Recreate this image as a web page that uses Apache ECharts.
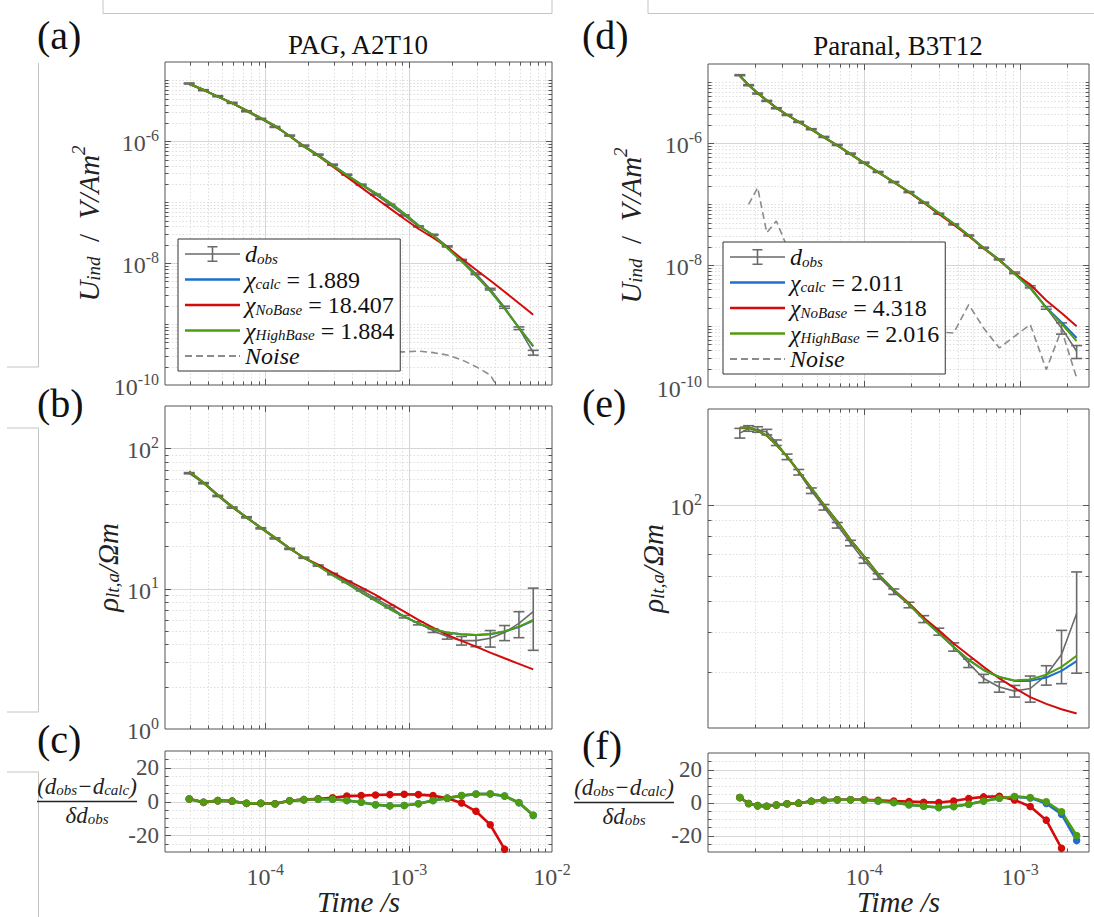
<!DOCTYPE html>
<html><head><meta charset="utf-8">
<script src="https://cdn.jsdelivr.net/npm/echarts@6/dist/echarts.min.js"></script>
<style>html,body{margin:0;padding:0;background:#fff}#c{width:1094px;height:917px}</style>
</head><body><div id="c"></div>
<script>
// ---------------- data ----------------
const timeL = [2.95e-5,3.71e-5,4.67e-5,5.88e-5,7.40e-5,9.32e-5,1.17e-4,1.48e-4,1.86e-4,2.34e-4,2.95e-4,3.71e-4,4.67e-4,5.88e-4,7.40e-4,9.32e-4,1.17e-3,1.48e-3,1.86e-3,2.34e-3,2.95e-3,3.71e-3,4.67e-3,5.88e-3,7.40e-3];
const timeR = [1.60e-5,1.82e-5,2.08e-5,2.38e-5,2.74e-5,3.21e-5,3.81e-5,4.59e-5,5.53e-5,6.73e-5,8.19e-5,1.00e-4,1.23e-4,1.55e-4,1.94e-4,2.41e-4,3.01e-4,3.75e-4,4.68e-4,5.83e-4,7.35e-4,9.20e-4,1.16e-3,1.47e-3,1.84e-3,2.30e-3];

// (a) PAG voltage
const uObsA   = [8.87e-6,6.89e-6,5.49e-6,4.27e-6,3.11e-6,2.33e-6,1.72e-6,1.24e-6,8.49e-7,6.04e-7,4.13e-7,2.83e-7,1.94e-7,1.33e-7,9.10e-8,6.08e-8,4.01e-8,2.92e-8,1.88e-8,1.13e-8,6.68e-9,3.74e-9,1.89e-9,8.55e-10,3.40e-10];
const uErrA   = [0.02,0.02,0.02,0.02,0.02,0.02,0.02,0.02,0.02,0.02,0.02,0.02,0.02,0.02,0.02,0.02,0.02,0.02,0.02,0.02,0.03,0.03,0.04,0.05,0.09];
const uCalcA  = [8.70e-6,7.00e-6,5.41e-6,4.24e-6,3.21e-6,2.40e-6,1.79e-6,1.22e-6,8.22e-7,5.81e-7,3.97e-7,2.78e-7,1.96e-7,1.41e-7,9.84e-8,6.54e-8,4.17e-8,2.87e-8,1.77e-8,1.08e-8,6.27e-9,3.51e-9,1.80e-9,8.72e-10,4.30e-10];
const uNoBaseA= [8.70e-6,7.00e-6,5.41e-6,4.24e-6,3.21e-6,2.40e-6,1.79e-6,1.22e-6,8.22e-7,5.81e-7,3.88e-7,2.60e-7,1.75e-7,1.17e-7,7.92e-8,5.36e-8,3.67e-8,2.61e-8,1.83e-8,1.19e-8,7.77e-9,5.19e-9,3.38e-9,2.20e-9,1.42e-9];
const uHighA  = [8.70e-6,7.00e-6,5.41e-6,4.24e-6,3.21e-6,2.40e-6,1.79e-6,1.22e-6,8.22e-7,5.81e-7,3.97e-7,2.78e-7,1.96e-7,1.41e-7,9.84e-8,6.54e-8,4.17e-8,2.87e-8,1.77e-8,1.08e-8,6.27e-9,3.51e-9,1.80e-9,8.69e-10,4.34e-10];
const noiseA  = [4.2e-10,4.1e-10,4.0e-10,4.0e-10,3.9e-10,3.9e-10,3.8e-10,3.8e-10,3.7e-10,3.7e-10,3.6e-10,3.6e-10,3.6e-10,3.5e-10,3.5e-10,3.5e-10,3.6e-10,3.4e-10,3.1e-10,2.6e-10,2.0e-10,1.46e-10,6e-11,3e-11,2e-11];

// (b) PAG apparent resistivity
const rhoObsB   = [66.4,56.4,45.7,37.8,32.2,26.9,22.8,19.2,16.6,14.6,12.7,11.2,9.78,8.53,7.44,6.31,5.66,5.02,4.55,4.26,4.26,4.43,4.86,5.66,6.86];
const rhoErrB   = [0.01,0.01,0.01,0.01,0.01,0.01,0.01,0.01,0.01,0.01,0.012,0.012,0.015,0.015,0.02,0.02,0.025,0.03,0.04,0.07,0.094,0.135,0.123,0.21,0.47];
const rhoCalcB  = [68.2,56.9,46.5,38.4,32.2,27.2,23.1,19.4,16.6,14.5,12.5,10.9,9.42,8.21,7.16,6.31,5.66,5.16,4.86,4.73,4.67,4.73,4.94,5.32,5.92];
const rhoNoBaseB= [68.2,56.9,46.5,38.4,32.2,27.2,23.1,19.4,16.6,14.8,13.0,11.5,10.2,9.02,7.86,6.86,5.98,5.28,4.68,4.24,3.86,3.50,3.19,2.91,2.66];
const rhoHighB  = [68.2,56.9,46.5,38.4,32.2,27.2,23.1,19.4,16.6,14.5,12.5,10.9,9.42,8.21,7.16,6.31,5.66,5.16,4.86,4.73,4.68,4.75,4.97,5.36,5.98];

// (c) PAG normalised residuals
const resCalcC  = [1.5,-0.5,0.5,0.2,-1.1,-1.1,-1.3,0.4,1.1,1.3,1.3,0.6,-0.4,-1.9,-2.6,-2.4,-1.3,0.6,2.0,3.5,4.4,4.5,3.2,-0.8,-8.3];
const resNoBaseC= [1.5,-0.5,0.5,0.2,-1.1,-1.1,-1.3,0.4,1.1,1.6,2.2,3.2,3.5,3.9,4.1,4.3,4.1,3.5,1.9,-0.9,-5.8,-13.8,-28.3,null,null];
const resHighC  = [1.5,-0.5,0.5,0.2,-1.1,-1.1,-1.3,0.4,1.1,1.3,1.3,0.6,-0.4,-1.9,-2.6,-2.4,-1.3,0.6,2.0,3.5,4.5,4.6,3.3,-0.6,-8.0];

// (d) Paranal voltage
const uObsD   = [1.31e-5,8.98e-6,6.55e-6,4.96e-6,3.76e-6,2.92e-6,2.24e-6,1.70e-6,1.27e-6,9.39e-7,6.77e-7,4.81e-7,3.38e-7,2.31e-7,1.58e-7,1.06e-7,6.98e-8,4.66e-8,3.07e-8,1.93e-8,1.24e-8,7.48e-9,4.41e-9,1.99e-9,9.33e-10,3.86e-10];
const uErrD   = [0.02,0.02,0.02,0.02,0.02,0.02,0.02,0.02,0.02,0.02,0.02,0.02,0.02,0.02,0.02,0.02,0.02,0.02,0.02,0.02,0.02,0.03,0.04,0.05,0.21,0.24];
const uCalcD  = [1.27e-5,9.03e-6,6.67e-6,5.07e-6,3.82e-6,2.94e-6,2.25e-6,1.69e-6,1.25e-6,9.20e-7,6.64e-7,4.72e-7,3.35e-7,2.31e-7,1.60e-7,1.08e-7,7.20e-8,4.80e-8,3.10e-8,1.91e-8,1.21e-8,7.20e-9,4.19e-9,2.02e-9,1.16e-9,6.36e-10];
const uNoBaseD= [1.27e-5,9.03e-6,6.67e-6,5.07e-6,3.82e-6,2.94e-6,2.25e-6,1.69e-6,1.25e-6,9.20e-7,6.64e-7,4.72e-7,3.35e-7,2.30e-7,1.57e-7,1.06e-7,6.95e-8,4.60e-8,3.00e-8,1.88e-8,1.20e-8,7.30e-9,4.81e-9,2.62e-9,1.64e-9,9.93e-10];
const uHighD  = [1.27e-5,9.03e-6,6.67e-6,5.07e-6,3.82e-6,2.94e-6,2.25e-6,1.69e-6,1.25e-6,9.20e-7,6.64e-7,4.72e-7,3.35e-7,2.31e-7,1.60e-7,1.08e-7,7.20e-8,4.80e-8,3.10e-8,1.91e-8,1.21e-8,7.20e-9,4.19e-9,1.99e-9,1.10e-9,5.64e-10];
const noiseD  = [null,9.9e-8,1.87e-7,3.4e-8,5.3e-8,2.0e-8,1.5e-8,8e-9,5e-9,3e-9,2e-9,1.5e-9,1.2e-9,1.0e-9,9e-10,8e-10,8e-10,7.7e-10,2.25e-9,9.3e-10,4.37e-10,6.8e-10,1.06e-9,1.93e-10,8.75e-10,1.41e-10];

// (e) Paranal apparent resistivity
const rhoObsE   = [168,173.8,172.5,169.3,156.8,141.6,126.7,110.9,98.4,86.4,76.0,67.0,59.7,53.5,48.6,43.9,40.1,35.9,31.9,28.6,26.9,26.1,26.6,29.3,34.0,45.7];
const rhoErrE   = [0.035,0.02,0.02,0.02,0.02,0.02,0.02,0.02,0.02,0.02,0.02,0.02,0.02,0.02,0.02,0.025,0.025,0.03,0.03,0.03,0.037,0.042,0.094,0.07,0.19,0.35];
const rhoCalcE  = [174.6,175,171,165,154.5,142,127.6,113,100.2,88.9,77.8,69.0,60.7,54.2,48.9,43.8,39.6,35.9,32.7,30.4,28.9,28.1,28.1,28.8,30.2,32.4];
const rhoNoBaseE= [174.6,175,171,165,154.5,142,127.6,113,100.2,88.9,77.8,69.0,60.7,54.2,49.2,44.3,40.5,36.8,33.8,31.1,28.6,26.7,25.0,23.8,22.9,22.2];
const rhoHighE  = [174.6,175,171,165,154.5,142,127.6,113,100.2,88.9,77.8,69.0,60.7,54.2,48.9,43.8,39.6,35.9,32.7,30.4,28.9,28.2,28.4,29.4,31.1,33.7];

// (f) Paranal normalised residuals
const resCalcF  = [3.0,-0.6,-1.9,-2.3,-1.5,-0.8,-0.4,0.8,1.3,1.7,1.7,1.7,0.9,0,-1.3,-2.3,-3.0,-2.4,-1.1,0.9,2.6,3.5,2.8,-0.6,-7.1,-23.1];
const resNoBaseF= [3.0,-0.6,-1.9,-2.3,-1.5,-0.8,-0.4,0.8,1.3,1.7,1.7,1.7,1.3,0.9,0.6,0.2,0,0.9,2.4,3.4,3.8,1.5,-2.4,-10.7,-27.8,null];
const resHighF  = [3.0,-0.6,-1.9,-2.3,-1.5,-0.8,-0.4,0.8,1.3,1.7,1.7,1.7,0.9,0,-1.3,-2.3,-3.0,-2.4,-1.1,0.9,2.6,3.6,3.0,0.4,-5.6,-20.0];

// legend values / tick labels
const chiA = ['1.889','18.407','1.884'];
const chiD = ['2.011','4.318','2.016'];
const xLabelExpL = [-4,-3,-2];
const xLabelExpR = [-4,-3];
const yLabelExpU = [-10,-8,-6];
const yLabelExpRhoB = [0,1,2];
const yLabelExpRhoE = [2];
const resTicks = [-20,0,20];
const resMinor = [-25,-15,-10,-5,5,10,15,25];

// ---------------- styling ----------------
const FONT = 'Liberation Serif, DejaVu Serif, serif';
const COL = {blue:'#1c6fd0', red:'#d40b0b', green:'#4f9c10', gray:'#6a6a6a', noise:'#8c8c8c'};
const LBL = '#4d4d4d';
const RICH_TICK = {
  b:{fontFamily:FONT,fontSize:24,lineHeight:28,verticalAlign:'bottom',color:LBL},
  s:{fontFamily:FONT,fontSize:16,lineHeight:17,verticalAlign:'top',color:LBL},
  n:{fontFamily:FONT,fontSize:23,lineHeight:24,color:LBL}
};
const RICH_NAME = {
  i:{fontFamily:FONT,fontStyle:'italic',fontSize:29,lineHeight:34,verticalAlign:'bottom',color:'#222'},
  u:{fontFamily:FONT,fontSize:29,lineHeight:34,verticalAlign:'bottom',color:'#222'},
  sub:{fontFamily:FONT,fontStyle:'italic',fontSize:19,lineHeight:10,verticalAlign:'bottom',color:'#222'},
  sup:{fontFamily:FONT,fontStyle:'italic',fontSize:19,lineHeight:15,verticalAlign:'top',color:'#222'},
  f:{fontFamily:FONT,fontStyle:'italic',fontSize:23,lineHeight:21,verticalAlign:'bottom',color:'#222'},
  fs:{fontFamily:FONT,fontStyle:'italic',fontSize:15,lineHeight:8,verticalAlign:'bottom',color:'#222'},
  bar:{width:100,height:1.3,fontSize:1,lineHeight:8,backgroundColor:'#222'}
};
const RICH_LEG = {
  chi:{fontFamily:FONT,fontStyle:'italic',fontSize:24,lineHeight:24,verticalAlign:'bottom',color:'#111'},
  sub:{fontFamily:FONT,fontStyle:'italic',fontSize:15,lineHeight:9,verticalAlign:'bottom',color:'#111'},
  n:{fontFamily:FONT,fontSize:24,lineHeight:24,verticalAlign:'bottom',color:'#111'}
};

function expLabel(v, allowed){
  const e = Math.log10(v), r = Math.round(e);
  if (Math.abs(e - r) > 1e-6 || allowed.indexOf(r) < 0) return '';
  return '{b|10}{s|' + r + '}';
}

// grid-line/tick lists (axis decoration)
function logGrid(min, max, majorExps){
  const out = [];
  for (let d = Math.floor(Math.log10(min)) - 1; d <= Math.ceil(Math.log10(max)); d++){
    for (let k = 1; k <= 9; k++){
      const v = k * Math.pow(10, d);
      if (v > min * 1.0001 && v < max * 0.9999) out.push([v, (k === 1 && majorExps.indexOf(d) >= 0) ? 1 : 0]);
    }
  }
  return out;
}
function linGrid(){ return resTicks.map(v => [v,1]).concat(resMinor.map(v => [v,0])); }

const XL = [2e-5, 1e-2], XR = [1e-5, 2.76e-3];
const YU = [1e-10, 2e-5], YB = [1, 200], YE = [20, 200], YR = [-30, 30];

function decor(gi, xg, yg, xmin, ymin){
  const data = [];
  xg.forEach(a => data.push([a[0], ymin, 0, a[1]]));
  yg.forEach(a => data.push([xmin, a[0], 1, a[1]]));
  return {
    type:'custom', xAxisIndex:gi, yAxisIndex:gi, silent:true, z:1, clip:false,
    encode:{x:0, y:1}, data,
    renderItem(params, api){
      const cs = params.coordSys;
      const isY = api.value(2) === 1, maj = api.value(3) === 1;
      const p = api.coord([api.value(0), api.value(1)]);
      const L = maj ? 6 : 3.5;
      const gs = maj ? {stroke:'#d6d6d6', lineWidth:1} : {stroke:'#dedede', lineWidth:1, lineDash:[1.5,2]};
      const ts = {stroke:'#555', lineWidth:1};
      const ch = [];
      if (!isY){
        const x = Math.round(p[0]) + 0.5;
        ch.push({type:'line', shape:{x1:x,y1:cs.y,x2:x,y2:cs.y+cs.height}, style:gs});
        ch.push({type:'line', shape:{x1:x,y1:cs.y+cs.height,x2:x,y2:cs.y+cs.height-L}, style:ts});
        ch.push({type:'line', shape:{x1:x,y1:cs.y,x2:x,y2:cs.y+L}, style:ts});
      } else {
        const y = Math.round(p[1]) + 0.5;
        ch.push({type:'line', shape:{x1:cs.x,y1:y,x2:cs.x+cs.width,y2:y}, style:gs});
        ch.push({type:'line', shape:{x1:cs.x,y1:y,x2:cs.x+L,y2:y}, style:ts});
        ch.push({type:'line', shape:{x1:cs.x+cs.width,y1:y,x2:cs.x+cs.width-L,y2:y}, style:ts});
      }
      return {type:'group', children:ch};
    }
  };
}

function pairs(t, v){ return t.map((x,i) => [x, v[i]]); }

function lineS(name, gi, t, v, color, width, extra){
  return Object.assign({
    type:'line', name, xAxisIndex:gi, yAxisIndex:gi, data:pairs(t,v),
    symbol:'none', showSymbol:false, z:2, connectNulls:false,
    lineStyle:{color, width}, itemStyle:{color}, emphasis:{disabled:true}
  }, extra || {});
}

function errS(name, gi, t, v, e){
  return {
    type:'custom', name, xAxisIndex:gi, yAxisIndex:gi, z:2, clip:true,
    itemStyle:{color:COL.gray},
    encode:{x:0, y:[1,2]},
    data: t.map((x,i) => [x, v[i]*(1-e[i]), v[i]*(1+e[i])]),
    renderItem(params, api){
      const lo = api.coord([api.value(0), api.value(1)]);
      const hi = api.coord([api.value(0), api.value(2)]);
      const w = 5.5, st = {stroke:COL.gray, lineWidth:1.6};
      return {type:'group', children:[
        {type:'line', shape:{x1:lo[0],y1:lo[1],x2:hi[0],y2:hi[1]}, style:st},
        {type:'line', shape:{x1:lo[0]-w,y1:lo[1],x2:lo[0]+w,y2:lo[1]}, style:st},
        {type:'line', shape:{x1:hi[0]-w,y1:hi[1],x2:hi[0]+w,y2:hi[1]}, style:st}
      ]};
    }
  };
}

function resS(name, gi, t, v, color){
  return lineS(name, gi, t, v, color, 2.6, {symbol:'circle', showSymbol:true, symbolSize:7.5});
}

// ---------------- layout ----------------
const grids = [
  {left:165, top:62,  width:387, height:323},
  {left:165, top:406, width:387, height:323},
  {left:165, top:751, width:387, height:106},
  {left:708, top:64,  width:381, height:323},
  {left:708, top:409, width:381, height:319},
  {left:708, top:753, width:381, height:106}
].map(g => Object.assign(g, {show:true, borderColor:'#555', borderWidth:1, backgroundColor:'#fff'}));

function xAx(gi, ext, exps, showLab){
  return {
    type:'log', logBase:10, gridIndex:gi, min:ext[0], max:ext[1],
    axisLine:{show:false}, axisTick:{show:false}, splitLine:{show:false}, minorTick:{show:false},
    axisLabel:{show:showLab, interval:0, margin:9, hideOverlap:false, formatter:v => expLabel(v, exps), rich:RICH_TICK},
    name: showLab ? '{i|Time /s}' : '', nameLocation:'middle', nameGap:30, nameMoveOverlap:false,
    nameTextStyle:{rich:RICH_NAME}
  };
}
function yLog(gi, ext, exps, name, gap){
  return {
    type:'log', logBase:10, gridIndex:gi, min:ext[0], max:ext[1],
    axisLine:{show:false}, axisTick:{show:false}, splitLine:{show:false}, minorTick:{show:false},
    axisLabel:{interval:0, margin:6, hideOverlap:false, formatter:v => expLabel(v, exps), rich:RICH_TICK},
    name, nameLocation:'middle', nameRotate:90, nameGap:gap, nameMoveOverlap:false,
    nameTextStyle:{rich:RICH_NAME}
  };
}
const FRAC = '{f|(d}{fs|obs}{f|−d}{fs|calc}{f|)}\n{bar| }\n{f|δd}{fs|obs}';
function yRes(gi, gap){
  return {
    type:'value', gridIndex:gi, min:YR[0], max:YR[1], interval:10,
    axisLine:{show:false}, axisTick:{show:false}, splitLine:{show:false},
    axisLabel:{interval:0, margin:6, formatter:v => (resTicks.indexOf(v) >= 0 ? '{n|' + v + '}' : ''), rich:RICH_TICK},
    name:FRAC, nameLocation:'middle', nameRotate:0, nameGap:gap, nameMoveOverlap:false,
    nameTextStyle:{align:'center', verticalAlign:'middle', rich:RICH_NAME}
  };
}
const NAME_U = '{i|U}{sub|ind}{u|  /  }{i|V/Am}{sup|2}';
const NAME_R = '{i|ρ}{sub|lt,a}{i|/Ωm}';

const xAxis = [
  xAx(0, XL, xLabelExpL, false), xAx(1, XL, xLabelExpL, false), xAx(2, XL, xLabelExpL, true),
  xAx(3, XR, xLabelExpR, false), xAx(4, XR, xLabelExpR, false), xAx(5, XR, xLabelExpR, true)
];
const yAxis = [
  yLog(0, YU, yLabelExpU, NAME_U, 62),
  yLog(1, YB, yLabelExpRhoB, NAME_R, 43),
  yRes(2, 78),
  yLog(3, YU, yLabelExpU, NAME_U, 63),
  yLog(4, YE, yLabelExpRhoE, NAME_R, 41),
  yRes(5, 84)
];

const gxL = logGrid(XL[0], XL[1], xLabelExpL);
const gxR = logGrid(XR[0], XR[1], [-5,-4,-3]);
const series = [
  decor(0, gxL, logGrid(YU[0], YU[1], yLabelExpU), XL[0], YU[0]),
  decor(1, gxL, logGrid(YB[0], YB[1], yLabelExpRhoB), XL[0], YB[0]),
  decor(2, gxL, linGrid(), XL[0], YR[0]),
  decor(3, gxR, logGrid(YU[0], YU[1], yLabelExpU), XR[0], YU[0]),
  decor(4, gxR, logGrid(YE[0], YE[1], yLabelExpRhoE), XR[0], YE[0]),
  decor(5, gxR, linGrid(), XR[0], YR[0]),
  // (a)
  lineS('noiseA', 0, timeL, noiseA, COL.noise, 1.6, {lineStyle:{color:COL.noise, width:1.6, type:[7,4]}}),
  lineS('dobsA', 0, timeL, uObsA, COL.gray, 1.6),
  errS('dobsA', 0, timeL, uObsA, uErrA),
  lineS('calcA', 0, timeL, uCalcA, COL.blue, 2),
  lineS('nobaseA', 0, timeL, uNoBaseA, COL.red, 2),
  lineS('highA', 0, timeL, uHighA, COL.green, 2),
  // (b)
  lineS('dobsA', 1, timeL, rhoObsB, COL.gray, 1.6),
  errS('dobsA', 1, timeL, rhoObsB, rhoErrB),
  lineS('calcA', 1, timeL, rhoCalcB, COL.blue, 2),
  lineS('nobaseA', 1, timeL, rhoNoBaseB, COL.red, 2),
  lineS('highA', 1, timeL, rhoHighB, COL.green, 2),
  // (c)
  resS('resCalcC', 2, timeL, resCalcC, COL.blue),
  resS('resNoBaseC', 2, timeL, resNoBaseC, COL.red),
  resS('resHighC', 2, timeL, resHighC, COL.green),
  // (d)
  lineS('noiseD', 3, timeR, noiseD, COL.noise, 1.6, {lineStyle:{color:COL.noise, width:1.6, type:[7,4]}}),
  lineS('dobsD', 3, timeR, uObsD, COL.gray, 1.6),
  errS('dobsD', 3, timeR, uObsD, uErrD),
  lineS('calcD', 3, timeR, uCalcD, COL.blue, 2),
  lineS('nobaseD', 3, timeR, uNoBaseD, COL.red, 2),
  lineS('highD', 3, timeR, uHighD, COL.green, 2),
  // (e)
  lineS('dobsD', 4, timeR, rhoObsE, COL.gray, 1.6),
  errS('dobsD', 4, timeR, rhoObsE, rhoErrE),
  lineS('calcD', 4, timeR, rhoCalcE, COL.blue, 2),
  lineS('nobaseD', 4, timeR, rhoNoBaseE, COL.red, 2),
  lineS('highD', 4, timeR, rhoHighE, COL.green, 2),
  // (f)
  resS('resCalcF', 5, timeR, resCalcF, COL.blue),
  resS('resNoBaseF', 5, timeR, resNoBaseF, COL.red),
  resS('resHighF', 5, timeR, resHighF, COL.green)
];

const EB_ICON = 'path://M0,8.2h55v1.6h-55z M26.7,1h1.6v16h-1.6z M22.5,1h10v1.6h-10z M22.5,15.4h10v1.6h-10z';
const LINE_ICON = 'path://M0,0h55v2.4h-55z';
const DASH_ICON = 'path://M0,0h7v1.8h-7z M11,0h7v1.8h-7z M22,0h7v1.8h-7z M33,0h7v1.8h-7z M44,0h7v1.8h-7z M54,0h1v1.8h-1z';
function legendCfg(tag, chis, left, top){
  const labels = {};
  labels['dobs'+tag] = '{chi|d}{sub|obs}';
  labels['calc'+tag] = '{chi|χ}{sub|calc}{n| = ' + chis[0] + '}';
  labels['nobase'+tag] = '{chi|χ}{sub|NoBase}{n| = ' + chis[1] + '}';
  labels['high'+tag] = '{chi|χ}{sub|HighBase}{n| = ' + chis[2] + '}';
  labels['noise'+tag] = '{chi|Noise}';
  return {
    orient:'vertical', left, top, itemWidth:55, itemHeight:16, itemGap:1.5, itemTextGap:4,
    padding:[3,6,3,7], backgroundColor:'#fff', borderColor:'#333', borderWidth:1, borderRadius:0,
    selectedMode:false, z:10,
    data:[
      {name:'dobs'+tag, icon:EB_ICON, itemStyle:{color:COL.gray, borderWidth:0}},
      {name:'calc'+tag, icon:LINE_ICON, itemStyle:{color:COL.blue, borderWidth:0}},
      {name:'nobase'+tag, icon:LINE_ICON, itemStyle:{color:COL.red, borderWidth:0}},
      {name:'high'+tag, icon:LINE_ICON, itemStyle:{color:COL.green, borderWidth:0}},
      {name:'noise'+tag, icon:DASH_ICON, itemStyle:{color:COL.noise, borderWidth:0}}
    ],
    formatter:n => labels[n],
    textStyle:{fontFamily:FONT, color:'#111', rich:RICH_LEG}
  };
}

function panelLabel(text, x, y){
  return {text, left:x, top:y, padding:0, textStyle:{fontFamily:FONT, fontSize:40, fontWeight:'normal', color:'#111'}};
}
const titles = [
  {text:'PAG, A2T10', left:358, top:31, textAlign:'center', padding:0, textStyle:{fontFamily:FONT, fontSize:27, fontWeight:'normal', color:'#111'}},
  {text:'Paranal, B3T12', left:898, top:32, textAlign:'center', padding:0, textStyle:{fontFamily:FONT, fontSize:27, fontWeight:'normal', color:'#111'}},
  panelLabel('(a)', 37, 15), panelLabel('(b)', 37, 383), panelLabel('(c)', 37, 719),
  panelLabel('(d)', 582, 15), panelLabel('(e)', 582, 383), panelLabel('(f)', 582, 725)
];

const LG = '#c4c4c4';
const graphic = [
  {type:'polyline', silent:true, shape:{points:[[103,0],[103,13.5],[552,13.5],[552,0]]}, style:{stroke:LG, lineWidth:1, fill:null}},
  {type:'polyline', silent:true, shape:{points:[[648,0],[648,13.5],[1094,13.5]]}, style:{stroke:LG, lineWidth:1, fill:null}},
  {type:'polyline', silent:true, shape:{points:[[38.5,63],[38.5,367],[7,367]]}, style:{stroke:LG, lineWidth:1, fill:null}},
  {type:'polyline', silent:true, shape:{points:[[7,428],[38.5,428],[38.5,712],[7,712]]}, style:{stroke:LG, lineWidth:1, fill:null}},
  {type:'polyline', silent:true, shape:{points:[[7,772],[38.5,772],[38.5,917]]}, style:{stroke:LG, lineWidth:1, fill:null}}
];

const chart = echarts.init(document.getElementById('c'), null, {renderer:'svg'});
chart.setOption({
  animation:false,
  backgroundColor:'#fff',
  textStyle:{fontFamily:FONT},
  title:titles,
  grid:grids,
  xAxis, yAxis,
  legend:[legendCfg('A', chiA, 178, 239), legendCfg('D', chiD, 723, 242)],
  graphic,
  series
});
</script></body></html>
